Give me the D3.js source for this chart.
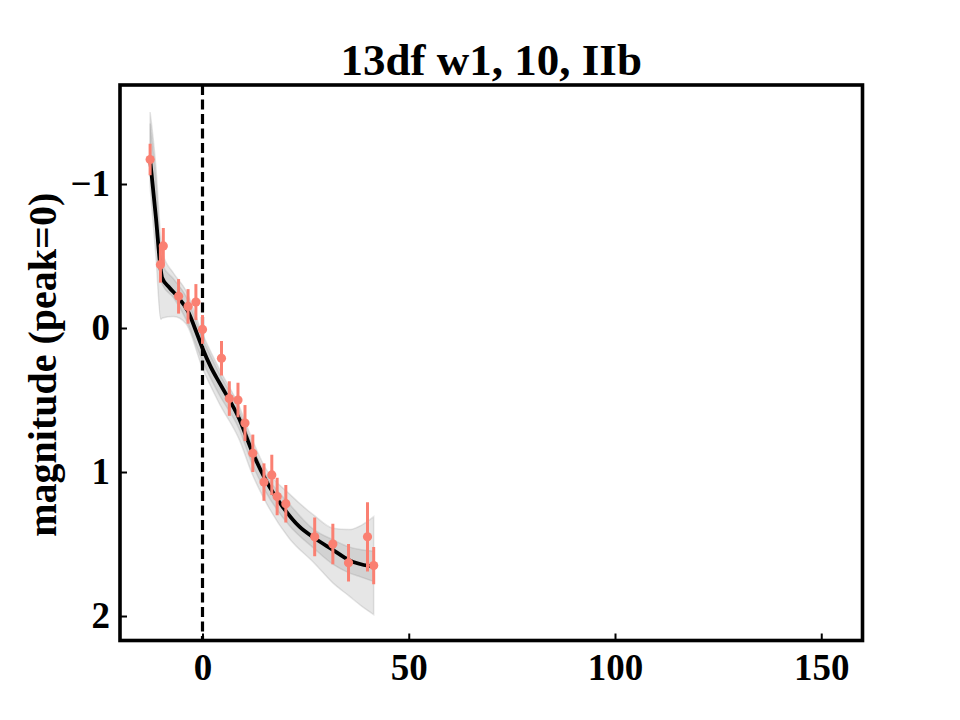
<!DOCTYPE html>
<html>
<head>
<meta charset="utf-8">
<script src="https://cdn.jsdelivr.net/npm/d3@7"></script>
<style>
  html, body { margin: 0; padding: 0; background: #fff; }
  svg { display: block; }
  text { font-family: "Liberation Serif", "DejaVu Serif", serif; font-weight: bold; fill: #000; }
</style>
</head>
<body>
<svg id="chart" width="960" height="720"></svg>
<script>
// ---- data ----
const titleText = "13df w1, 10, IIb";
const yLabel = "magnitude (peak=0)";
const xTicks = [0, 50, 100, 150];
const yTicks = [-1, 0, 1, 2];

// observed points: phase (days), magnitude relative to peak, error
const obsX   = [-12.7, -9.5, -10.2, -5.8, -3.5, -1.6, 0.0, 4.6, 6.5, 8.6, 10.3, 12.2, 14.9, 16.8, 18.1, 20.2, 27.2, 31.6, 35.4, 40.0, 41.5];
const obsY   = [-1.17, -0.57, -0.44, -0.22, -0.15, -0.18, 0.01, 0.21, 0.49, 0.50, 0.66, 0.87, 1.07, 1.02, 1.17, 1.22, 1.45, 1.50, 1.63, 1.45, 1.65];
const obsErr = [0.11, 0.125, 0.125, 0.12, 0.12, 0.125, 0.10, 0.12, 0.12, 0.12, 0.125, 0.13, 0.13, 0.14, 0.13, 0.13, 0.135, 0.14, 0.13, 0.24, 0.13];

// fitted curve
const fitX = [-12.7, -11.3, -10.1, -9.8, -8, -6.1, -3.6, -1.2, 0, 2, 4.3, 8.9, 12.2, 15.4, 19.4, 23.5, 27.2, 31.6, 35.4, 40.5, 41.5];
const fitY = [-1.17, -0.77, -0.40, -0.35, -0.28, -0.22, -0.12, 0.05, 0.14, 0.27, 0.39, 0.63, 0.87, 1.06, 1.24, 1.38, 1.46, 1.54, 1.61, 1.652, 1.655];

// uncertainty bands
const bandX  = [-12.7, -11.3, -10.1, -9.7, -7, -4, 0, 4, 9, 12, 15, 21, 27, 31.6, 35.5, 38.5, 41.5];
const bandALo = [-1.50, -1.12, -0.62, -0.52, -0.38, -0.26, 0.04, 0.28, 0.55, 0.77, 0.96, 1.15, 1.30, 1.39, 1.40, 1.37, 1.31];
const bandAHi = [-1.08, -0.68, -0.34, -0.30, -0.21, -0.06, 0.23, 0.46, 0.71, 0.94, 1.12, 1.37, 1.53, 1.64, 1.70, 1.73, 1.76];
const bandBLo = [-1.42, -1.02, -0.52, -0.44, -0.34, -0.22, 0.07, 0.31, 0.58, 0.81, 1.00, 1.22, 1.40, 1.47, 1.52, 1.54, 1.55];
const bandBHi = [-0.98, -0.50, -0.06, -0.07, -0.08, -0.03, 0.28, 0.52, 0.78, 1.01, 1.19, 1.46, 1.63, 1.77, 1.86, 1.93, 1.99];

// ---- layout ----
const svg = d3.select("#chart");
const pL = 120, pR = 862.5, pT = 85, pB = 640.5;

const x = d3.scaleLinear().domain([-20, 160]).range([pL, pR]);
const y = d3.scaleLinear().domain([-1.6875, 2.17]).range([pT, pB]);

svg.append("defs").append("clipPath").attr("id", "plotclip")
  .append("rect").attr("x", pL).attr("y", pT).attr("width", pR - pL).attr("height", pB - pT);

const plot = svg.append("g").attr("clip-path", "url(#plotclip)");

function bandData(lo, hi) { return bandX.map((d, i) => ({x: d, lo: lo[i], hi: hi[i]})); }
const area = d3.area().x(d => x(d.x)).y0(d => y(d.lo)).y1(d => y(d.hi)).curve(d3.curveMonotoneX);

[[bandALo, bandAHi], [bandBLo, bandBHi]].forEach(([lo, hi]) => {
  plot.append("path")
    .attr("d", area(bandData(lo, hi)))
    .attr("fill", "#808080").attr("fill-opacity", 0.2)
    .attr("stroke", "#808080").attr("stroke-opacity", 0.2).attr("stroke-width", 1.5);
});

// dashed peak line
plot.append("line")
  .attr("x1", x(0)).attr("x2", x(0)).attr("y1", pT).attr("y2", pB)
  .attr("stroke", "#000").attr("stroke-width", 3.2).attr("stroke-dasharray", "10,4.5");

// fitted curve
const line = d3.line().x(d => x(d)).y((d, i) => y(fitY[i])).curve(d3.curveMonotoneX);
plot.append("path").attr("d", line(fitX))
  .attr("fill", "none").attr("stroke", "#000").attr("stroke-width", 3.8);

// error bars and points
const col = "#fa8072";
const pts = obsX.map((d, i) => ({x: d, y: obsY[i], e: obsErr[i]}));
plot.selectAll("line.err").data(pts).enter().append("line")
  .attr("class", "err")
  .attr("x1", d => x(d.x)).attr("x2", d => x(d.x))
  .attr("y1", d => y(d.y - d.e)).attr("y2", d => y(d.y + d.e))
  .attr("stroke", col).attr("stroke-width", 3);
plot.selectAll("circle.pt").data(pts).enter().append("circle")
  .attr("class", "pt")
  .attr("cx", d => x(d.x)).attr("cy", d => y(d.y)).attr("r", 4.6)
  .attr("fill", col);

// axes (ticks inward)
const xAxis = d3.axisBottom(x).tickValues(xTicks).tickSize(-7).tickPadding(12).tickFormat(d3.format("d"));
const yAxis = d3.axisLeft(y).tickValues(yTicks).tickSize(-7).tickPadding(10)
  .tickFormat(d => d < 0 ? "\u2212" + Math.abs(d) : String(d));

const gx = svg.append("g").attr("transform", `translate(0,${pB})`).call(xAxis);
const gy = svg.append("g").attr("transform", `translate(${pL},0)`).call(yAxis);
[gx, gy].forEach(g => {
  g.select(".domain").remove();
  g.selectAll(".tick line").attr("stroke", "#000").attr("stroke-width", 2);
  g.selectAll(".tick text").style("font-size", "37px").style("font-family", "'Liberation Serif', serif").style("font-weight", "bold");
});
gx.selectAll(".tick text").attr("dy", "0.75em");

// frame
svg.append("rect").attr("x", pL).attr("y", pT).attr("width", pR - pL).attr("height", pB - pT)
  .attr("fill", "none").attr("stroke", "#000").attr("stroke-width", 3.6);

// title
svg.append("text").attr("x", (pL + pR) / 2).attr("y", 75).attr("text-anchor", "middle")
  .style("font-size", "45px").text(titleText);

// y label
svg.append("text").attr("transform", `translate(56,${(pT + pB) / 2 + 2}) rotate(-90)`)
  .attr("text-anchor", "middle").style("font-size", "40px").text(yLabel);
</script>
</body>
</html>
